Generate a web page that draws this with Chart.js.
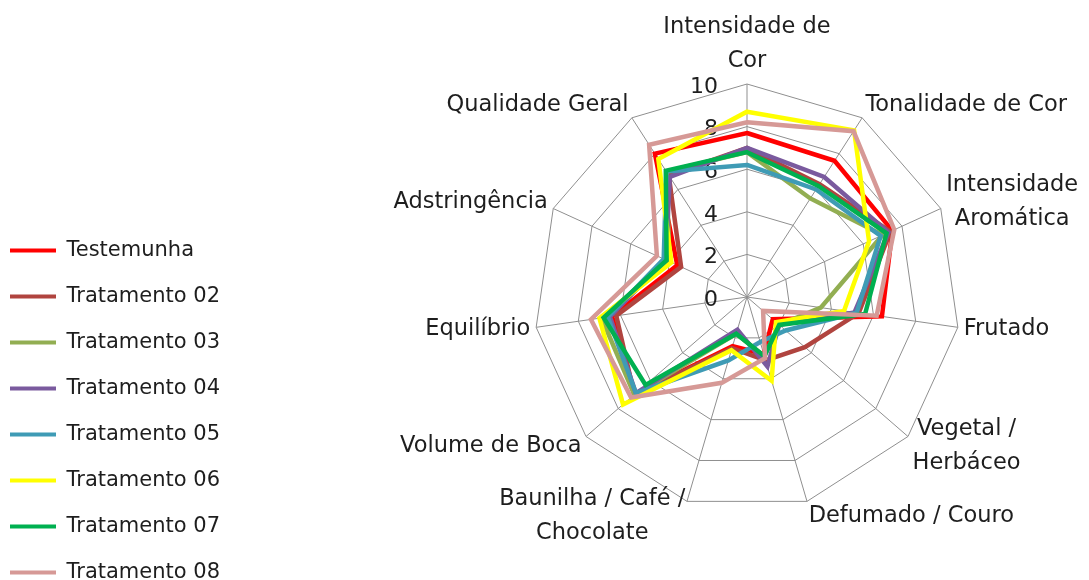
<!DOCTYPE html>
<html>
<head>
<meta charset="utf-8">
<script src="https://cdn.jsdelivr.net/npm/chart.js@4.4.1/dist/chart.umd.min.js"></script>
<style>
  html, body { margin: 0; padding: 0; background: #fff; overflow: hidden; }
  #wrap { position: relative; width: 1089px; height: 608px; }
</style>
</head>
<body>
<div id="wrap"><canvas id="radarChart"></canvas></div>
<script>
'use strict';

// axis names (one array per label, one string per line)
var categories = [
  ['Intensidade de', 'Cor'],
  ['Tonalidade de Cor'],
  ['Intensidade', 'Aromática'],
  ['Frutado'],
  ['Vegetal /', 'Herbáceo'],
  ['Defumado / Couro'],
  ['Baunilha / Café /', 'Chocolate'],
  ['Volume de Boca'],
  ['Equilíbrio'],
  ['Adstringência'],
  ['Qualidade Geral']
];

var seriesNames = ['Testemunha', 'Tratamento 02', 'Tratamento 03', 'Tratamento 04',
  'Tratamento 05', 'Tratamento 06', 'Tratamento 07', 'Tratamento 08'];
var seriesColors = ['#ff0000', '#b0443f', '#92ae52', '#7a5a9e',
  '#3f9bb5', '#ffff00', '#00b050', '#d69996'];

var testemunha   = [7.7, 7.6, 7.5, 6.4, 1.6, 2.8, 2.4, 7.0, 6.4, 3.6, 8.0];
var tratamento02 = [7.0, 6.3, 7.4, 5.3, 3.6, 3.1, 2.5, 7.0, 6.2, 3.4, 6.8];
var tratamento03 = [6.8, 5.5, 7.0, 3.5, 2.0, 2.9, 1.8, 7.0, 6.9, 4.0, 7.0];
var tratamento04 = [7.0, 6.7, 7.3, 5.1, 2.0, 3.4, 1.6, 6.9, 6.5, 4.2, 6.7];
var tratamento05 = [6.2, 6.0, 6.9, 5.2, 2.4, 2.2, 3.1, 6.9, 6.6, 4.3, 7.0];
var tratamento06 = [8.7, 9.3, 6.3, 4.6, 1.8, 4.1, 2.6, 7.7, 7.0, 3.9, 7.7];
var tratamento07 = [6.8, 6.2, 7.2, 5.6, 2.0, 2.9, 1.8, 6.3, 6.8, 4.15, 7.05];
var tratamento08 = [8.2, 9.25, 7.6, 6.15, 1.0, 3.0, 4.2, 7.2, 7.4, 4.65, 8.5];

var tickValues = [0, 2, 4, 6, 8, 10];

var allSeries = [testemunha, tratamento02, tratamento03, tratamento04,
  tratamento05, tratamento06, tratamento07, tratamento08];

var textColor = '#1e1e1e';
var gridColor = '#8f8f8f';

var datasets = [];
for (var i = 0; i < allSeries.length; i++) {
  datasets.push({
    label: seriesNames[i],
    data: allSeries[i],
    borderColor: seriesColors[i],
    backgroundColor: 'transparent',
    borderWidth: 4.5,
    fill: false,
    pointRadius: 0,
    pointHoverRadius: 0,
    pointBorderWidth: 4,
    pointBorderColor: seriesColors[i],
    pointStyle: 'line',
    // last series on top, like the original
    order: allSeries.length - i
  });
}

// draws the axis names and the value labels under the series lines
var radarText = {
  id: 'radarText',
  beforeDatasetsDraw: function(chart) {
    var scale = chart.scales.r;
    var ctx = chart.ctx;
    ctx.save();
    ctx.fillStyle = textColor;

    ctx.font = '22px "DejaVu Sans"';
    ctx.textAlign = 'right';
    ctx.textBaseline = 'middle';
    for (var t = 0; t < tickValues.length; t++) {
      var d = scale.getDistanceFromCenterForValue(tickValues[t]);
      ctx.fillText(String(tickValues[t]), scale.xCenter - 29, scale.yCenter - d + 3);
    }

    var lineH = 34;
    ctx.font = '22.5px "DejaVu Sans"';
    ctx.textAlign = 'center';
    for (var i = 0; i < categories.length; i++) {
      var lines = categories[i];
      var p = scale.getPointPosition(i, scale.drawingArea + 6);
      var ang = scale.getIndexAngle(i);
      var s = Math.sin(ang);
      var c = Math.cos(ang);
      var w = 0;
      for (var k = 0; k < lines.length; k++) {
        w = Math.max(w, ctx.measureText(lines[k]).width);
      }
      var h = lines.length * lineH;
      var cx, cy;
      if (Math.abs(s) < 0.01) {
        cx = p.x;
        cy = p.y - c * (h / 2);
      } else {
        cx = s > 0 ? p.x + w / 2 : p.x - w / 2;
        cy = p.y - c * 9;
      }
      for (k = 0; k < lines.length; k++) {
        ctx.fillText(lines[k], cx, cy - h / 2 + lineH * (k + 0.5));
      }
    }
    ctx.restore();
  }
};

var ctx = document.getElementById('radarChart').getContext('2d');
var radarChart = new Chart(ctx, {
  type: 'radar',
  data: {
    labels: categories,
    datasets: datasets
  },
  options: {
    responsive: true,
    maintainAspectRatio: false,
    animation: false,
    layout: { padding: { left: -15, right: 0, top: 0, bottom: 0 } },
    elements: { line: { tension: 0 } },
    plugins: {
      legend: {
        position: 'left',
        align: 'end',
        reverse: true,
        labels: {
          usePointStyle: true,
          pointStyle: 'line',
          pointStyleWidth: 46,
          padding: 25,
          color: textColor,
          font: { family: 'DejaVu Sans', size: 21 }
        }
      },
      tooltip: { enabled: false }
    },
    scales: {
      r: {
        min: 0,
        max: 10,
        ticks: { display: false, stepSize: 2 },
        pointLabels: { display: false },
        grid: { color: gridColor, lineWidth: 1 },
        angleLines: { color: gridColor, lineWidth: 1 },
        afterSetDimensions: function(scale) {
          scale.xCenter = 747;
          scale.yCenter = 297;
          scale.drawingArea = 213;
        }
      }
    }
  },
  plugins: [radarText]
});
</script>
</body>
</html>
